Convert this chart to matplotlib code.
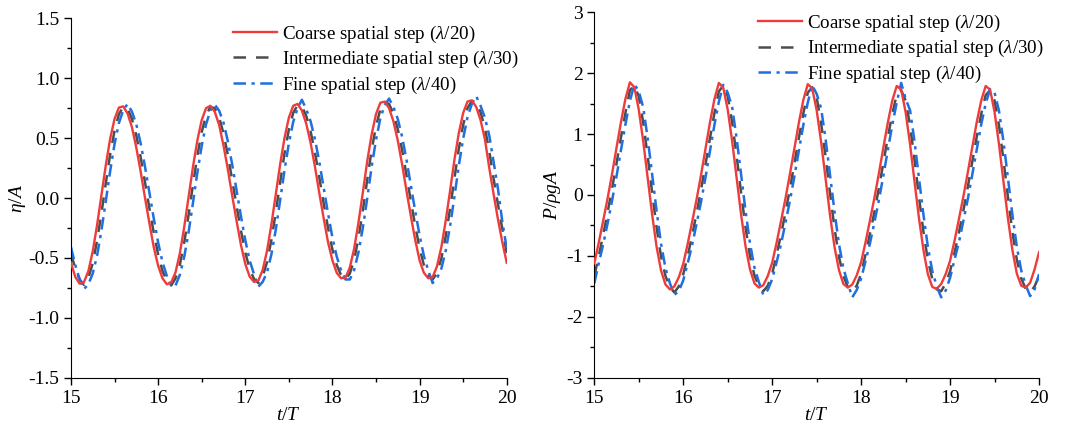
import numpy as np
import matplotlib
matplotlib.use('Agg')
import matplotlib.pyplot as plt
from matplotlib.ticker import MultipleLocator, FormatStrFormatter

plt.rcParams['font.family'] = 'Liberation Serif'
plt.rcParams['font.size'] = 14
plt.rcParams['mathtext.fontset'] = 'custom'
plt.rcParams['mathtext.rm'] = 'Liberation Serif'
plt.rcParams['mathtext.it'] = 'Liberation Serif:italic'
plt.rcParams['axes.unicode_minus'] = False

# sample times t/T (step 0.05)
t = np.linspace(15, 20, 101)

labels = ['Coarse spatial step ($\\lambda$/20)',
          'Intermediate spatial step ($\\lambda$/30)',
          'Fine spatial step ($\\lambda$/40)']

# free surface elevation eta/A
eta_coarse = [
    -0.54, -0.66, -0.715, -0.70, -0.61, -0.445, -0.225, 0.025, 0.275, 0.495, 0.66, 0.755, 0.765, 0.705, 0.59, 0.42, 0.22, 0.0, -0.21, -0.41,
    -0.565, -0.67, -0.72, -0.705, -0.62, -0.46, -0.24, 0.01, 0.26, 0.48, 0.65, 0.75, 0.77, 0.72, 0.61, 0.44, 0.24, 0.02, -0.19, -0.39,
    -0.55, -0.655, -0.70, -0.69, -0.60, -0.44, -0.22, 0.03, 0.28, 0.50, 0.67, 0.77, 0.785, 0.73, 0.62, 0.46, 0.26, 0.04, -0.17, -0.37,
    -0.52, -0.625, -0.67, -0.665, -0.58, -0.42, -0.20, 0.05, 0.31, 0.53, 0.70, 0.795, 0.805, 0.75, 0.64, 0.48, 0.28, 0.06, -0.15, -0.35,
    -0.52, -0.625, -0.67, -0.66, -0.57, -0.41, -0.19, 0.06, 0.32, 0.54, 0.71, 0.805, 0.815, 0.76, 0.65, 0.49, 0.25, 0.03, -0.18, -0.37, -0.54]
eta_mid = [
    -0.46, -0.59, -0.68, -0.725, -0.665, -0.545, -0.355, -0.125, 0.125, 0.365, 0.56, 0.70, 0.76, 0.745, 0.66, 0.52, 0.34, 0.13, -0.085, -0.29,
    -0.47, -0.61, -0.69, -0.73, -0.67, -0.555, -0.37, -0.14, 0.11, 0.35, 0.55, 0.69, 0.76, 0.75, 0.675, 0.54, 0.36, 0.15, -0.065, -0.27,
    -0.455, -0.59, -0.675, -0.71, -0.655, -0.535, -0.35, -0.12, 0.13, 0.37, 0.57, 0.71, 0.775, 0.765, 0.685, 0.555, 0.38, 0.17, -0.045, -0.25,
    -0.43, -0.56, -0.645, -0.68, -0.63, -0.515, -0.33, -0.10, 0.155, 0.40, 0.60, 0.74, 0.80, 0.785, 0.705, 0.575, 0.40, 0.19, -0.025, -0.23,
    -0.42, -0.56, -0.645, -0.68, -0.625, -0.505, -0.32, -0.09, 0.165, 0.41, 0.61, 0.75, 0.81, 0.795, 0.715, 0.585, 0.39, 0.16, -0.055, -0.26, -0.46]
eta_fine = [
    -0.41, -0.56, -0.68, -0.76, -0.72, -0.63, -0.48, -0.27, -0.025, 0.225, 0.45, 0.625, 0.735, 0.785, 0.72, 0.615, 0.455, 0.26, 0.045, -0.17,
    -0.37, -0.535, -0.65, -0.73, -0.73, -0.64, -0.49, -0.285, -0.04, 0.21, 0.435, 0.615, 0.73, 0.78, 0.73, 0.63, 0.475, 0.28, 0.065, -0.15,
    -0.35, -0.52, -0.635, -0.74, -0.70, -0.62, -0.47, -0.265, -0.02, 0.23, 0.455, 0.635, 0.75, 0.82, 0.74, 0.64, 0.49, 0.30, 0.085, -0.13,
    -0.33, -0.49, -0.605, -0.68, -0.68, -0.60, -0.45, -0.245, 0.0, 0.26, 0.485, 0.665, 0.775, 0.83, 0.76, 0.66, 0.51, 0.32, 0.105, -0.11,
    -0.31, -0.485, -0.605, -0.71, -0.67, -0.59, -0.44, -0.235, 0.01, 0.27, 0.495, 0.675, 0.785, 0.85, 0.77, 0.67, 0.52, 0.30, 0.075, -0.20, -0.42]

# pressure P/(rho g A)
p_coarse = [
    -1.12, -0.78, -0.42, -0.05, 0.35, 0.78, 1.20, 1.58, 1.85, 1.77, 1.40, 0.88, 0.28, -0.32, -0.85, -1.24, -1.47, -1.55, -1.50, -1.35,
    -1.13, -0.80, -0.44, -0.07, 0.33, 0.76, 1.19, 1.57, 1.84, 1.76, 1.40, 0.88, 0.28, -0.32, -0.84, -1.22, -1.45, -1.52, -1.48, -1.33,
    -1.11, -0.78, -0.42, -0.05, 0.35, 0.77, 1.19, 1.56, 1.82, 1.75, 1.39, 0.87, 0.27, -0.33, -0.85, -1.23, -1.46, -1.52, -1.47, -1.32,
    -1.10, -0.77, -0.41, -0.04, 0.36, 0.78, 1.19, 1.55, 1.79, 1.73, 1.36, 0.83, 0.22, -0.38, -0.90, -1.30, -1.51, -1.54, -1.46, -1.30,
    -1.08, -0.75, -0.39, -0.02, 0.38, 0.79, 1.20, 1.55, 1.79, 1.73, 1.36, 0.83, 0.22, -0.38, -0.90, -1.29, -1.49, -1.52, -1.44, -1.22, -0.94]
p_mid = [
    -1.33, -1.00, -0.65, -0.28, 0.11, 0.52, 0.95, 1.35, 1.72, 1.80, 1.62, 1.19, 0.64, 0.04, -0.53, -1.01, -1.33, -1.52, -1.60, -1.50,
    -1.30, -1.00, -0.66, -0.30, 0.09, 0.50, 0.93, 1.34, 1.70, 1.80, 1.62, 1.19, 0.64, 0.04, -0.53, -1.00, -1.32, -1.50, -1.58, -1.49,
    -1.29, -0.98, -0.64, -0.28, 0.11, 0.52, 0.94, 1.34, 1.68, 1.77, 1.60, 1.18, 0.63, 0.03, -0.54, -1.01, -1.33, -1.51, -1.58, -1.49,
    -1.29, -0.97, -0.63, -0.27, 0.12, 0.53, 0.95, 1.33, 1.65, 1.72, 1.55, 1.14, 0.58, -0.03, -0.60, -1.07, -1.38, -1.55, -1.58, -1.45,
    -1.25, -0.95, -0.61, -0.25, 0.14, 0.55, 0.96, 1.33, 1.64, 1.72, 1.55, 1.14, 0.58, -0.03, -0.60, -1.06, -1.37, -1.54, -1.60, -1.50, -1.33]
p_fine = [
    -1.45, -1.12, -0.81, -0.46, -0.09, 0.31, 0.74, 1.16, 1.54, 1.82, 1.70, 1.44, 0.93, 0.34, -0.26, -0.80, -1.20, -1.45, -1.64, -1.58,
    -1.40, -1.12, -0.82, -0.47, -0.11, 0.29, 0.72, 1.15, 1.53, 1.81, 1.68, 1.44, 0.93, 0.34, -0.26, -0.79, -1.19, -1.43, -1.64, -1.56,
    -1.38, -1.10, -0.80, -0.45, -0.09, 0.31, 0.73, 1.15, 1.52, 1.80, 1.66, 1.42, 0.92, 0.33, -0.27, -0.80, -1.20, -1.45, -1.68, -1.56,
    -1.37, -1.08, -0.79, -0.44, -0.08, 0.32, 0.74, 1.15, 1.52, 1.84, 1.58, 1.39, 0.88, 0.28, -0.32, -0.85, -1.25, -1.50, -1.68, -1.57,
    -1.36, -1.06, -0.77, -0.42, -0.06, 0.34, 0.75, 1.16, 1.50, 1.74, 1.68, 1.38, 0.88, 0.28, -0.32, -0.85, -1.24, -1.48, -1.66, -1.55, -1.30]

red = '#EE3B3B'
gray = '#4D4D4D'
blue = '#1F6FDF'

fig = plt.figure(figsize=(10.67, 4.34), dpi=100)
ax1 = fig.add_axes([0.0665, 0.1297, 0.4084, 0.8281])
ax2 = fig.add_axes([0.557, 0.1297, 0.4168, 0.842])


def draw(ax, y1, y2, y3):
    ax.plot(t, y1, color=red, lw=1.7, label=labels[0], zorder=3)
    ax.plot(t, y2, color=gray, lw=1.8, dashes=(5, 4), label=labels[1], zorder=2)
    ax.plot(t, y3, color=blue, lw=1.8, dashes=(5, 2.2, 1.3, 2.2), label=labels[2], zorder=2)
    ax.set_xlim(15, 20)
    ax.xaxis.set_major_locator(MultipleLocator(1))
    ax.xaxis.set_minor_locator(MultipleLocator(0.5))
    ax.spines['top'].set_visible(False)
    ax.spines['right'].set_visible(False)
    ax.tick_params(which='major', direction='out', length=5, width=1, labelsize=14)
    ax.tick_params(which='minor', direction='out', length=3, width=1)
    ax.set_xlabel('$t/T$', labelpad=0, fontsize=14)


draw(ax1, eta_coarse, eta_mid, eta_fine)
ax1.set_ylim(-1.5, 1.5)
ax1.yaxis.set_major_locator(MultipleLocator(0.5))
ax1.yaxis.set_minor_locator(MultipleLocator(0.25))
ax1.yaxis.set_major_formatter(FormatStrFormatter('%.1f'))
ax1.set_ylabel('$\\eta/A$', labelpad=0, fontsize=14)
ax1.legend(loc='upper left', bbox_to_anchor=(0.355, 1.006), frameon=False,
           fontsize=13.7, handlelength=2.3, handletextpad=0.25,
           labelspacing=0.22, borderaxespad=0)

draw(ax2, p_coarse, p_mid, p_fine)
ax2.set_ylim(-3, 3)
ax2.yaxis.set_major_locator(MultipleLocator(1))
ax2.yaxis.set_minor_locator(MultipleLocator(0.5))
ax2.set_ylabel('$P/\\rho gA$', labelpad=2, fontsize=14)
ax2.legend(loc='upper left', bbox_to_anchor=(0.352, 1.019), frameon=False,
           fontsize=13.7, handlelength=2.3, handletextpad=0.25,
           labelspacing=0.22, borderaxespad=0)

fig.savefig('out.png', dpi=100)
